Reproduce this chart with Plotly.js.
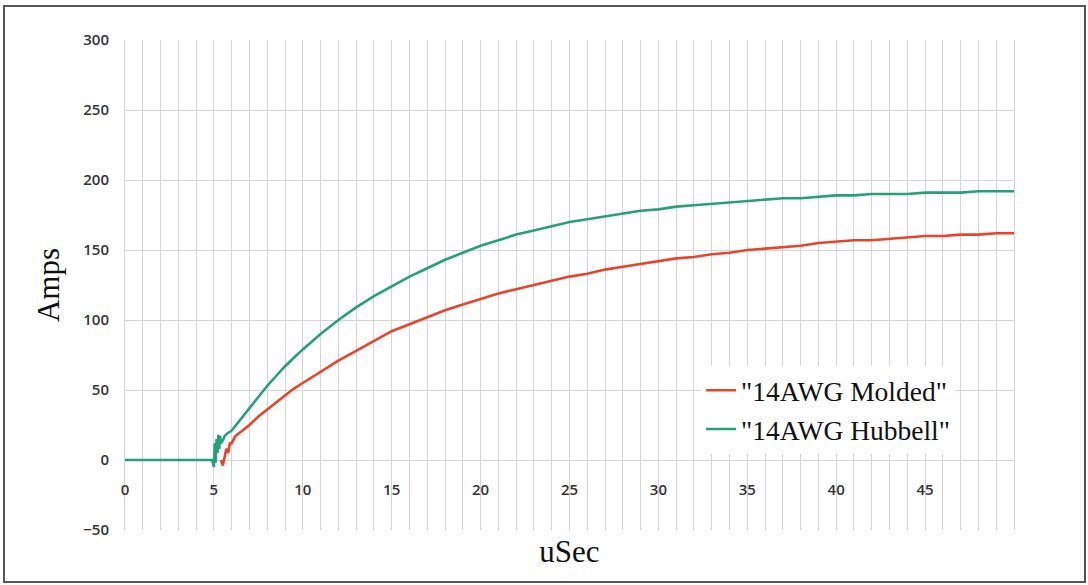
<!DOCTYPE html>
<html>
<head>
<meta charset="utf-8">
<script src="https://cdn.plot.ly/plotly-3.0.1.min.js"></script>
<style>
  html, body { margin: 0; padding: 0; background: #fff; }
  #wrap { position: relative; width: 1088px; height: 585px; }
  #chart { width: 1088px; height: 585px; }
  #frame { position: absolute; left: 3px; top: 5px; width: 1083px; height: 578px;
           box-sizing: border-box; border: 2px solid #555; pointer-events: none; }
</style>
</head>
<body>
<div id="wrap">
  <div id="chart"></div>
  <div id="frame"></div>
</div>
<script>
// Time axis (uSec) and current (Amps)
const hubbellT = [0, 4.9, 5.0, 5.05, 5.1, 5.15, 5.2, 5.25, 5.3, 5.35, 5.4, 5.5, 5.6, 5.75,
  6, 6.5, 7, 7.5, 8, 8.5, 9, 9.5, 10, 11, 12, 13, 14, 15, 16, 17, 18, 19, 20,
  21, 22, 23, 24, 25, 26, 27, 28, 29, 30, 31, 32, 33, 34, 35, 36, 37, 38, 39, 40,
  41, 42, 43, 44, 45, 46, 47, 48, 49, 50];
const hubbellA = [0, 0, -5, 12, -2, 15, 5, 18, 8, 17, 12, 14, 17, 19,
  21, 29, 37, 45, 53, 60, 67, 73, 79, 90, 100, 109, 117, 124, 131, 137, 143, 148, 153,
  157, 161, 164, 167, 170, 172, 174, 176, 178, 179, 181, 182, 183, 184, 185, 186, 187, 187, 188, 189,
  189, 190, 190, 190, 191, 191, 191, 192, 192, 192];

const moldedT = [5.4, 5.5, 5.6, 5.7, 5.8, 5.9, 6, 6.2, 6.5, 7, 7.5, 8, 8.5, 9, 9.5, 10,
  11, 12, 13, 14, 15, 16, 17, 18, 19, 20, 21, 22, 23, 24, 25, 26, 27, 28, 29, 30,
  31, 32, 33, 34, 35, 36, 37, 38, 39, 40, 41, 42, 43, 44, 45, 46, 47, 48, 49, 50];
const moldedA = [0, -4, 2, 8, 5, 12, 12, 17, 20, 25, 31, 36, 41, 46, 51, 55,
  63, 71, 78, 85, 92, 97, 102, 107, 111, 115, 119, 122, 125, 128, 131, 133, 136, 138, 140, 142,
  144, 145, 147, 148, 150, 151, 152, 153, 155, 156, 157, 157, 158, 159, 160, 160, 161, 161, 162, 162];

const xTickVals = [0, 5, 10, 15, 20, 25, 30, 35, 40, 45];
const xTickText = ["0", "5", "10", "15", "20", "25", "30", "35", "40", "45"];
const yTickVals = [-50, 0, 50, 100, 150, 200, 250, 300];

const names = ['"14AWG Molded"', '"14AWG Hubbell"'];
const colors = ['#e8432b', '#26a079'];

const traces = [
  { x: moldedT, y: moldedA, name: names[0], type: 'scatter', mode: 'lines',
    line: { color: colors[0], width: 2.6 } },
  { x: hubbellT, y: hubbellA, name: names[1], type: 'scatter', mode: 'lines',
    line: { color: colors[1], width: 2.6 } }
];

const gridColor = '#d4d4d4';
const tickFont = { family: 'Open Sans, Liberation Sans, sans-serif', size: 15, color: '#333', weight: 600 };
const titleFont = { family: 'Liberation Serif, DejaVu Serif, serif', size: 31, color: '#111' };

const layout = {
  width: 1088, height: 585,
  paper_bgcolor: '#fff', plot_bgcolor: '#fff',
  margin: { l: 125, r: 74, t: 40, b: 55 },
  showlegend: true,
  legend: {
    x: 0.648, y: 0.335, xanchor: 'left', yanchor: 'top',
    bgcolor: '#ffffff', borderwidth: 0,
    font: { family: 'Liberation Serif, DejaVu Serif, serif', size: 27.5, color: '#111' },
    traceorder: 'normal'
  },
  xaxis: {
    range: [0, 50], anchor: 'free', position: 0.1429,
    tickmode: 'array', tickvals: xTickVals, ticktext: xTickText,
    ticks: 'outside', ticklen: 16, tickcolor: 'rgba(0,0,0,0)',
    tickfont: tickFont,
    showgrid: true, gridcolor: gridColor, gridwidth: 1,
    minor: { dtick: 1, showgrid: true, gridcolor: gridColor, gridwidth: 1 },
    zeroline: false, showline: false,
    title: { text: 'uSec', font: titleFont, standoff: 42 }
  },
  yaxis: {
    range: [-50, 300], tickmode: 'array', tickvals: yTickVals,
    ticks: 'outside', ticklen: 12, tickcolor: 'rgba(0,0,0,0)',
    tickfont: tickFont,
    showgrid: true, gridcolor: gridColor, gridwidth: 1,
    zeroline: true, zerolinecolor: gridColor, zerolinewidth: 1,
    showline: true, mirror: true, linecolor: gridColor, linewidth: 1,
    title: { text: 'Amps', font: titleFont, standoff: 14 }
  }
};

Plotly.newPlot('chart', traces, layout, { displayModeBar: false, staticPlot: true });
</script>
</body>
</html>
